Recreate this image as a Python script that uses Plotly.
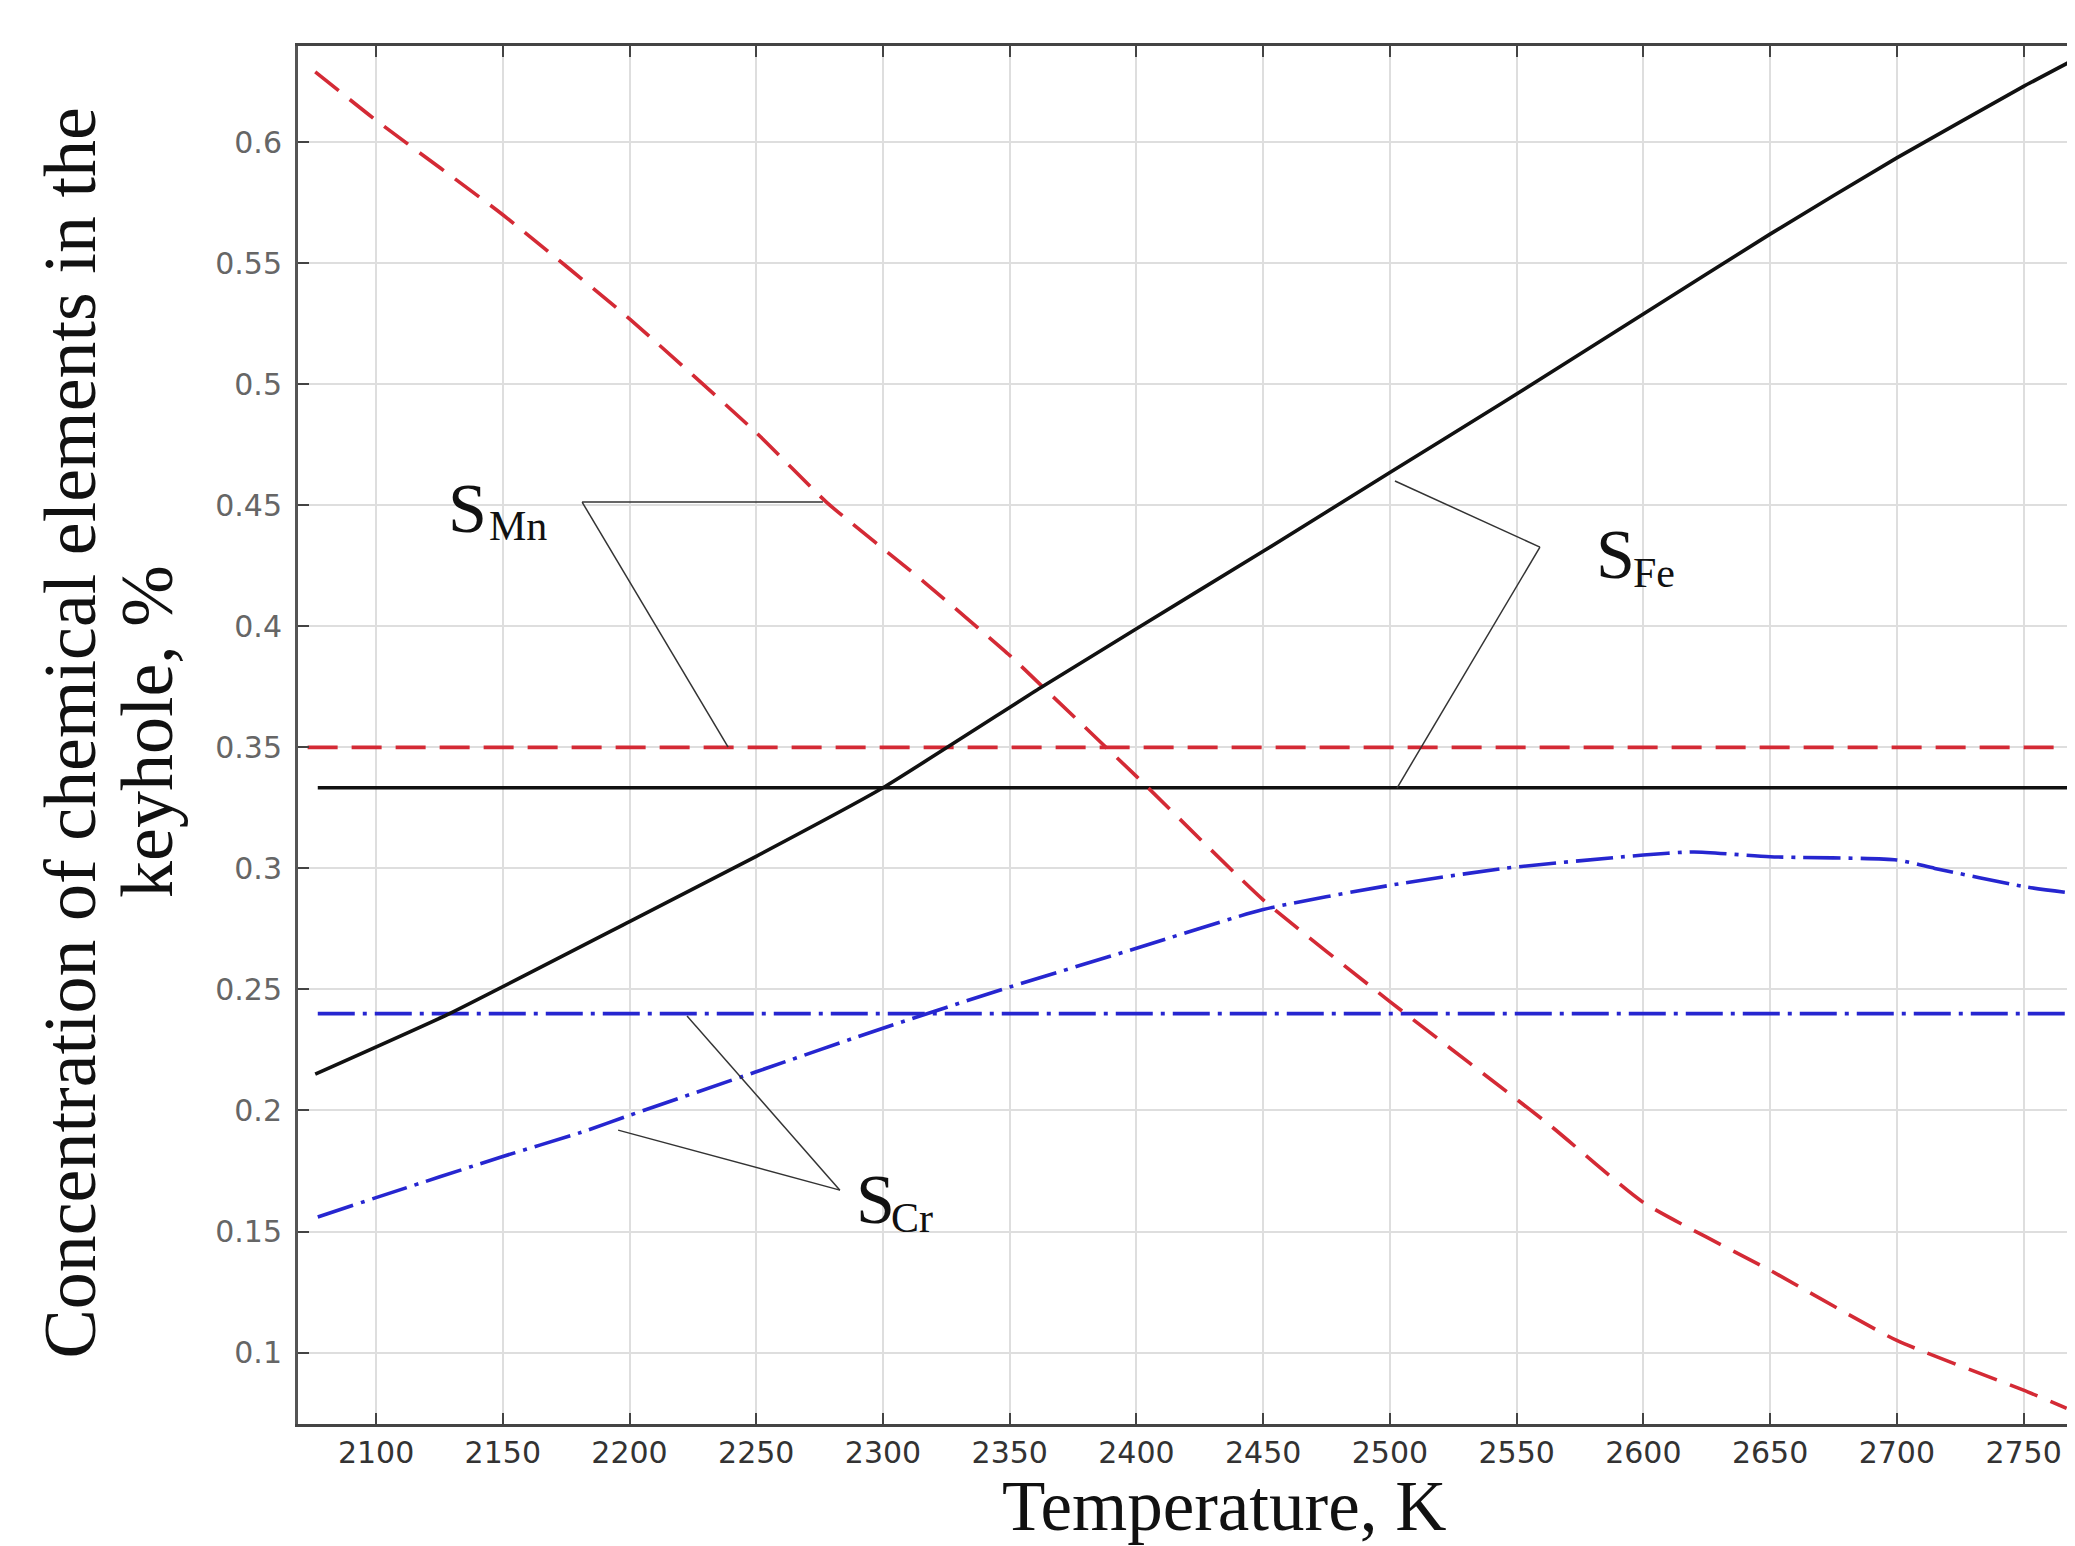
import plotly.graph_objects as go

# ---------------- data ----------------
temp_fe = [2076, 2129, 2200, 2250, 2300, 2362, 2400, 2450, 2500, 2544, 2600, 2650, 2700, 2750, 2768]
conc_fe = [0.215, 0.240, 0.278, 0.305, 0.3333, 0.3745, 0.399, 0.431, 0.4635, 0.492, 0.529, 0.562, 0.5935, 0.623, 0.633]

temp_mn = [2076, 2100, 2150, 2200, 2250, 2278, 2316, 2350, 2362, 2400, 2450, 2500, 2563, 2600, 2650, 2700, 2750, 2767]
conc_mn = [0.629, 0.609, 0.570, 0.527, 0.480, 0.451, 0.4185, 0.388, 0.376, 0.338, 0.287, 0.245, 0.194, 0.162, 0.134, 0.105, 0.0845, 0.077]

temp_cr = [2077, 2100, 2150, 2181, 2200, 2250, 2300, 2350, 2400, 2450, 2500, 2545, 2600, 2620, 2650, 2700, 2715, 2750, 2769]
conc_cr = [0.156, 0.164, 0.181, 0.191, 0.198, 0.216, 0.234, 0.251, 0.267, 0.283, 0.293, 0.300, 0.3055, 0.3068, 0.3048, 0.3035, 0.300, 0.2925, 0.2898]

# reference (initial) levels
ref_mn_temp = [2073, 2771]
ref_mn = [0.35, 0.35]
ref_fe_temp = [2077, 2768]
ref_fe = [0.3333, 0.3333]
ref_cr_temp = [2077, 2771]
ref_cr = [0.24, 0.24]

x_ticks = list(range(2100, 2751, 50))
y_ticks = [0.1, 0.15, 0.2, 0.25, 0.3, 0.35, 0.4, 0.45, 0.5, 0.55, 0.6]
y_ticktext = ["0.1", "0.15", "0.2", "0.25", "0.3", "0.35", "0.4", "0.45", "0.5", "0.55", "0.6"]

x_title = "Temperature, K"
y_title_1 = "Concentration of chemical elements in the"
y_title_2 = "keyhole, %"

RED = "#d42a35"
BLUE = "#2626d0"
BLACK = "#111111"
LW = 3.6
RED_DASH = "30px,14px"
BLUE_DASH = "37px,8px,4px,8px"

fig = go.Figure()

# reference levels
fig.add_trace(go.Scatter(x=ref_mn_temp, y=ref_mn, mode="lines",
                         line=dict(color=RED, width=LW, dash=RED_DASH)))
fig.add_trace(go.Scatter(x=ref_fe_temp, y=ref_fe, mode="lines",
                         line=dict(color=BLACK, width=LW)))
fig.add_trace(go.Scatter(x=ref_cr_temp, y=ref_cr, mode="lines",
                         line=dict(color=BLUE, width=LW, dash=BLUE_DASH)))

# computed curves
fig.add_trace(go.Scatter(x=temp_mn, y=conc_mn, mode="lines",
                         line=dict(color=RED, width=LW, dash=RED_DASH, shape="spline", smoothing=0.5)))
fig.add_trace(go.Scatter(x=temp_fe, y=conc_fe, mode="lines",
                         line=dict(color=BLACK, width=LW, shape="spline", smoothing=0.4)))
fig.add_trace(go.Scatter(x=temp_cr, y=conc_cr, mode="lines",
                         line=dict(color=BLUE, width=LW, dash=BLUE_DASH, shape="spline", smoothing=0.6)))

# leader lines
LEAD = dict(color="#333333", width=1.5)
leaders = [
    (2181.3, 0.4513, 2276.3, 0.4513),
    (2181.3, 0.4513, 2238.9, 0.3501),
    (2502.0, 0.4600, 2559.2, 0.4327),
    (2559.2, 0.4327, 2502.8, 0.3332),
    (2283.0, 0.1671, 2222.7, 0.2390),
    (2283.0, 0.1671, 2195.5, 0.1919),
]
for x0, y0, x1, y1 in leaders:
    fig.add_shape(type="line", xref="x", yref="y", x0=x0, y0=y0, x1=x1, y1=y1, line=LEAD)

SERIF = "Liberation Serif, Times New Roman, serif"

def label(xs, ys, main, xsub, ysub, sub):
    fig.add_annotation(x=xs, y=ys, xref="x", yref="y", text=main, showarrow=False,
                       xanchor="left", yanchor="middle",
                       font=dict(family=SERIF, size=70, color="#111"))
    fig.add_annotation(x=xsub, y=ysub, xref="x", yref="y", text=sub, showarrow=False,
                       xanchor="left", yanchor="middle",
                       font=dict(family=SERIF, size=42, color="#111"))

label(2127.6, 0.4487, "S", 2143.8, 0.4414, "Mn")
label(2580.5, 0.4297, "S", 2595.1, 0.4220, "Fe")
label(2288.6, 0.1632, "S", 2302.4, 0.1556, "Cr")

# axis titles as annotations
fig.add_annotation(x=0.521, y=-0.0598, xref="paper", yref="paper", text=x_title,
                   showarrow=False, xanchor="center", yanchor="middle",
                   font=dict(family=SERIF, size=71, color="#111"))
fig.add_annotation(x=-0.1285, y=0.5015, xref="paper", yref="paper", text=y_title_1,
                   showarrow=False, xanchor="center", yanchor="middle", textangle=-90,
                   font=dict(family=SERIF, size=74, color="#111"))
fig.add_annotation(x=-0.0850, y=0.5029, xref="paper", yref="paper", text=y_title_2,
                   showarrow=False, xanchor="center", yanchor="middle", textangle=-90,
                   font=dict(family=SERIF, size=74, color="#111"))

AX = "#444444"
fig.update_xaxes(range=[2069.2, 2770.3], tickvals=x_ticks, ticks="inside", ticklen=11,
                 tickwidth=2, tickcolor=AX, showline=True, linecolor=AX, linewidth=3,
                 mirror="ticks", showgrid=True, gridcolor="#dedede", gridwidth=1.5,
                 zeroline=False, tickfont=dict(family="DejaVu Sans", size=30, color="#333"))
fig.update_yaxes(range=[0.0705, 0.6397], tickvals=y_ticks, ticktext=y_ticktext,
                 ticks="inside", ticklen=11, tickwidth=2, tickcolor=AX, showline=True,
                 linecolor="#555555", linewidth=3, showgrid=True, gridcolor="#dedede",
                 gridwidth=1.5, zeroline=False, ticklabelstandoff=7,
                 tickfont=dict(family="DejaVu Sans", size=30, color="#666"))

# the page body has an 8px default margin, so the figure is sized/offset to compensate
fig.update_layout(width=2067, height=1538, showlegend=False,
                  margin=dict(l=290, r=0, t=38, b=122, pad=0),
                  plot_bgcolor="white", paper_bgcolor="white")

fig.write_html("out.html")
